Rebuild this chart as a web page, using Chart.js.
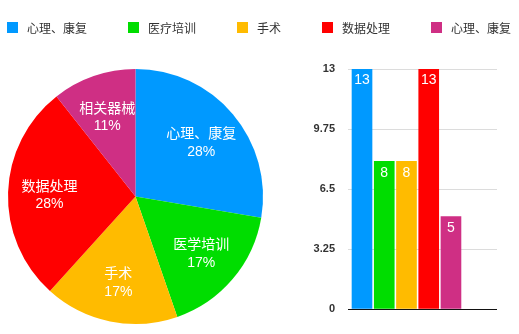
<!DOCTYPE html>
<html>
<head>
<meta charset="utf-8">
<script src="https://cdn.jsdelivr.net/npm/chart.js@4.4.1/dist/chart.umd.min.js"></script>
<style>
  html, body { margin: 0; padding: 0; background: #fff; }
  #wrap { position: relative; width: 519px; height: 334px; }
  #wrap canvas { position: absolute; left: 0; top: 0; }
</style>
</head>
<body>
<div id="wrap">
  <canvas id="pie" width="519" height="334"></canvas>
  <canvas id="bar" width="519" height="334"></canvas>
</div>
<script>
'use strict';

// legend text (as in the source, last entry repeats the first)
const legendLabels = ['心理、康复', '医疗培训', '手术', '数据处理', '心理、康复'];
// labels written on the pie slices
const sliceLabels = ['心理、康复', '医学培训', '手术', '数据处理', '相关器械'];
const counts = [13, 8, 8, 13, 5];
const barIndex = [0, 1, 2, 3, 4];
const yTicks = [0, 3.25, 6.5, 9.75, 13];
const COLORS = ['#0099ff', '#00dd00', '#ffbb00', '#ff0000', '#cf2f84'];

const FONT = '"Liberation Sans", "Noto Sans CJK SC", sans-serif';

const legendRow = {
  id: 'legendRow',
  afterDraw(chart) {
    const { ctx } = chart;
    ctx.save();
    ctx.font = `12px ${FONT}`;
    ctx.textBaseline = 'middle';
    ctx.textAlign = 'left';
    let x = 7;
    legendLabels.forEach((text, i) => {
      ctx.fillStyle = COLORS[i];
      ctx.fillRect(x, 22, 11, 11);
      ctx.fillStyle = '#333';
      ctx.fillText(text, x + 20, 29.5);
      x += 20 + ctx.measureText(text).width + 41;
    });
    ctx.restore();
  },
};

const sliceText = {
  id: 'sliceText',
  afterDatasetsDraw(chart) {
    const { ctx } = chart;
    const total = counts.reduce((a, b) => a + b, 0);
    ctx.save();
    ctx.font = `14px ${FONT}`;
    ctx.fillStyle = '#fff';
    ctx.textAlign = 'center';
    ctx.textBaseline = 'middle';
    chart.getDatasetMeta(0).data.forEach((arc, i) => {
      const { x, y, startAngle, endAngle, outerRadius } =
        arc.getProps(['x', 'y', 'startAngle', 'endAngle', 'outerRadius'], true);
      const mid = (startAngle + endAngle) / 2;
      const r = outerRadius * 0.675;
      const cx = x + Math.cos(mid) * r;
      const cy = y + Math.sin(mid) * r;
      ctx.fillText(sliceLabels[i], cx, cy - 6.5);
      ctx.fillText(Math.round(counts[i] / total * 100) + '%', cx, cy + 11);
    });
    ctx.restore();
  },
};

const barText = {
  id: 'barText',
  afterDatasetsDraw(chart) {
    const { ctx } = chart;
    ctx.save();
    ctx.font = `14px ${FONT}`;
    ctx.fillStyle = '#fff';
    ctx.textAlign = 'center';
    ctx.textBaseline = 'middle';
    chart.getDatasetMeta(0).data.forEach((bar, i) => {
      ctx.fillText(String(counts[i]), bar.x, bar.y + 11.5);
    });
    ctx.restore();
  },
};

new Chart(document.getElementById('pie'), {
  type: 'pie',
  data: {
    labels: sliceLabels,
    datasets: [{ data: counts, backgroundColor: COLORS, borderWidth: 0 }],
  },
  options: {
    responsive: false,
    animation: false,
    layout: { padding: { left: 8, top: 69, right: 256, bottom: 10 } },
    plugins: { legend: { display: false }, tooltip: { enabled: false } },
  },
  plugins: [sliceText, legendRow],
});

new Chart(document.getElementById('bar'), {
  type: 'bar',
  data: {
    datasets: [{
      data: counts.map((v, i) => ({ x: barIndex[i], y: v })),
      backgroundColor: COLORS,
      borderWidth: 0,
      barThickness: 20,
    }],
  },
  options: {
    responsive: false,
    animation: false,
    layout: { padding: { left: 290, top: 69, right: 22, bottom: 25 } },
    plugins: { legend: { display: false }, tooltip: { enabled: false } },
    scales: {
      x: { type: 'linear', min: -0.63, max: 6.07, offset: false, display: false },
      y: {
        min: 0,
        max: 13,
        afterBuildTicks: scale => { scale.ticks = yTicks.map(value => ({ value })); },
        afterFit: scale => { scale.width = 58; },
        border: { display: false },
        grid: {
          drawTicks: false,
          color: c => (c.tick && c.tick.value === 0 ? '#111' : '#dcdcdc'),
        },
        ticks: {
          padding: 13,
          color: '#333',
          font: { family: FONT, size: 11, weight: 'bold' },
          callback: v => String(v),
        },
      },
    },
  },
  plugins: [barText],
});
</script>
</body>
</html>
